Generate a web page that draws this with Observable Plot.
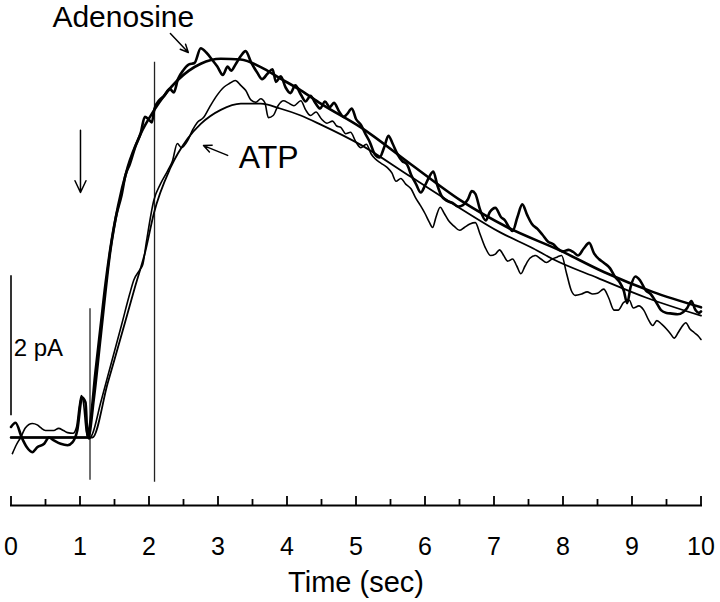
<!DOCTYPE html>
<html>
<head>
<meta charset="utf-8">
<script src="https://cdn.jsdelivr.net/npm/d3@7"></script>
<script src="https://cdn.jsdelivr.net/npm/@observablehq/plot@0.6"></script>
<style>
  html, body { margin: 0; padding: 0; background: #fff; }
  #chart { width: 720px; height: 602px; }
</style>
</head>
<body>
<div id="chart"></div>
<script>
// ---------- data (time in s, current in pA) ----------
const majorTicks = [0, 1, 2, 3, 4, 5, 6, 7, 8, 9, 10];
const minorTicks = [0.5, 1.5, 2.5, 3.5, 4.5, 5.5, 6.5, 7.5, 8.5, 9.5];

const adenosineTrace = [
  [0.0,0.15],[0.065,0.21],[0.16,-0.01],[0.23,-0.14],[0.31,-0.21],[0.38,-0.14],[0.48,-0.09],[0.55,0.0],
  [0.62,-0.04],[0.72,-0.09],[0.82,-0.11],[0.89,-0.07],[0.96,0.1],[1.03,0.57],[1.08,0.5],[1.11,0.02],
  [1.16,0.3],[1.22,0.9],[1.3,1.6],[1.37,2.2],[1.44,2.7],[1.52,3.15],[1.6,3.45],[1.66,3.75],[1.72,3.9],
  [1.8,4.15],[1.88,4.35],[1.94,4.58],[1.99,4.55],[2.04,4.5],[2.08,4.7],[2.15,4.82],[2.22,4.88],[2.3,4.98],
  [2.36,4.93],[2.42,5.12],[2.5,5.25],[2.58,5.33],[2.66,5.35],[2.75,5.56],[2.83,5.5],[2.92,5.39],[2.99,5.3],
  [3.07,5.18],[3.14,5.3],[3.19,5.24],[3.26,5.34],[3.33,5.45],[3.4,5.52],[3.48,5.36],[3.57,5.21],[3.64,5.12],
  [3.72,5.2],[3.79,5.26],[3.84,5.08],[3.91,5.16],[3.98,5.0],[4.05,4.92],[4.12,5.03],[4.2,4.9],[4.27,4.8],
  [4.34,4.88],[4.41,4.78],[4.48,4.7],[4.55,4.8],[4.62,4.72],[4.68,4.78],[4.76,4.65],[4.82,4.58],[4.87,4.62],
  [4.94,4.7],[5.0,4.55],[5.07,4.47],[5.14,4.33],[5.2,4.22],[5.27,4.05],[5.34,4.0],[5.41,4.15],[5.47,4.31],
  [5.53,4.2],[5.6,4.05],[5.67,3.95],[5.74,3.9],[5.8,3.75],[5.87,3.62],[5.94,3.5],[6.0,3.6],[6.06,3.72],
  [6.12,3.8],[6.18,3.6],[6.24,3.45],[6.32,3.38],[6.4,3.35],[6.48,3.3],[6.55,3.32],[6.62,3.4],[6.68,3.52],
  [6.73,3.48],[6.8,3.25],[6.88,3.1],[6.94,3.22],[7.02,3.28],[7.1,3.15],[7.16,3.1],[7.22,3.0],[7.27,2.95],
  [7.34,3.15],[7.41,3.33],[7.48,3.18],[7.55,3.05],[7.63,2.98],[7.7,2.9],[7.78,2.8],[7.86,2.76],[7.92,2.7],
  [8.0,2.66],[8.08,2.68],[8.15,2.65],[8.22,2.6],[8.3,2.7],[8.38,2.78],[8.45,2.63],[8.52,2.55],[8.6,2.49],
  [8.68,2.42],[8.75,2.3],[8.82,2.22],[8.88,2.1],[8.93,1.92],[8.98,2.15],[9.05,2.3],[9.12,2.24],[9.2,2.1],
  [9.27,2.05],[9.34,1.95],[9.42,1.82],[9.5,1.78],[9.58,1.77],[9.66,1.76],[9.74,1.79],[9.8,1.85],[9.86,1.95],
  [9.92,1.82],[9.97,1.78],[10.0,1.8]
];

const atpTrace = [
  [0.02,-0.23],[0.08,-0.1],[0.14,0.0],[0.21,0.14],[0.31,0.2],[0.38,0.18],[0.43,0.14],[0.5,0.1],[0.55,0.1],
  [0.62,0.1],[0.69,0.13],[0.76,0.1],[0.82,0.07],[0.9,0.06],[0.95,0.15],[0.99,0.45],[1.02,0.6],[1.05,0.5],
  [1.09,0.1],[1.13,-0.02],[1.18,0.05],[1.3,0.5],[1.45,1.05],[1.6,1.6],[1.72,2.05],[1.78,2.25],[1.87,2.4],
  [1.91,2.47],[1.96,2.78],[2.07,3.39],[2.17,3.63],[2.27,3.81],[2.34,3.95],[2.41,4.2],[2.47,4.14],[2.56,4.24],
  [2.63,4.39],[2.7,4.5],[2.79,4.57],[2.89,4.74],[2.98,4.88],[3.08,5.0],[3.17,5.06],[3.25,5.1],[3.33,5.03],
  [3.4,4.96],[3.48,4.82],[3.55,4.79],[3.62,4.84],[3.68,4.78],[3.73,4.57],[3.8,4.6],[3.87,4.74],[3.95,4.81],
  [4.02,4.78],[4.1,4.74],[4.2,4.81],[4.27,4.68],[4.34,4.6],[4.42,4.65],[4.5,4.55],[4.58,4.49],[4.66,4.52],
  [4.72,4.45],[4.78,4.43],[4.85,4.34],[4.92,4.36],[5.0,4.22],[5.07,4.14],[5.15,4.19],[5.22,4.05],[5.28,3.98],
  [5.36,3.92],[5.45,3.86],[5.52,3.78],[5.58,3.66],[5.65,3.7],[5.72,3.62],[5.8,3.55],[5.86,3.43],[5.93,3.32],
  [6.0,3.2],[6.06,3.08],[6.11,3.0],[6.16,3.15],[6.22,3.29],[6.28,3.2],[6.34,3.1],[6.42,3.02],[6.5,2.96],
  [6.57,3.0],[6.65,3.05],[6.73,3.07],[6.8,2.9],[6.88,2.7],[6.95,2.6],[7.02,2.62],[7.08,2.68],[7.14,2.6],
  [7.2,2.52],[7.27,2.55],[7.33,2.45],[7.39,2.34],[7.45,2.45],[7.52,2.56],[7.6,2.6],[7.68,2.55],[7.76,2.5],
  [7.84,2.55],[7.92,2.58],[7.98,2.6],[8.05,2.35],[8.12,2.1],[8.18,2.03],[8.27,2.05],[8.35,2.08],[8.43,2.05],
  [8.5,2.06],[8.59,2.12],[8.66,2.0],[8.74,1.82],[8.8,1.82],[8.88,1.93],[8.96,1.96],[9.02,1.85],[9.1,1.88],
  [9.17,1.82],[9.24,1.68],[9.3,1.6],[9.36,1.67],[9.43,1.62],[9.5,1.55],[9.56,1.48],[9.61,1.42],[9.67,1.5],
  [9.72,1.58],[9.78,1.64],[9.84,1.55],[9.9,1.5],[9.96,1.45],[10.0,1.4]
];

const adenosineFit = [
  [0,0],[1.0,0],[1.12,0],[1.2,0.55],[1.3,1.45],[1.44,2.67],[1.55,3.3],[1.69,3.86],[1.88,4.34],[2.07,4.67],
  [2.41,5.1],[2.75,5.34],[3.04,5.41],[3.33,5.4],[3.62,5.29],[3.9,5.13],[4.2,4.96],[4.49,4.77],[5.07,4.43],
  [5.8,3.9],[6.51,3.39],[7.2,3.0],[7.96,2.67],[8.6,2.36],[9.3,2.08],[10,1.86]
];

const atpFit = [
  [0,0],[1.0,0],[1.18,0],[1.4,0.77],[1.6,1.46],[1.8,2.16],[1.95,2.67],[2.07,3.2],[2.31,3.85],[2.56,4.27],
  [2.75,4.48],[3.04,4.68],[3.33,4.77],[3.62,4.77],[3.9,4.7],[4.2,4.6],[4.49,4.47],[5.07,4.18],[5.8,3.72],
  [6.5,3.28],[7.09,2.93],[7.57,2.7],[7.85,2.55],[8.5,2.28],[9.2,2.0],[10,1.74]
];

// vertical marker lines (time, bottom, top in pA)
const markerTime = [1.145, 2.08];
const markerBottom = [-0.61, -0.64];
const markerTop = [1.84, 5.36];

// scale bar (2 pA)
const scaleBarTime = [0];
const scaleBarBottom = [0.31];
const scaleBarTop = [2.31];

// annotations
const labelText = ["Adenosine", "ATP", "2 pA"];
const labelTime = [0.6, 3.3, 0.04];
const labelValue = [6.0, 3.99, 1.27];
const labelSize = [30, 32, 24];

const arrowX1 = [1.007, 2.31, 3.14];
const arrowY1 = [4.39, 5.77, 4.03];
const arrowX2 = [1.007, 2.57, 2.79];
const arrowY2 = [3.5, 5.5, 4.17];

// ---------- build ----------
const toObj = a => a.map(([t, v]) => ({t, v}));
const markers = markerTime.map((t, i) => ({t, y1: markerBottom[i], y2: markerTop[i]}));
const scaleBar = scaleBarTime.map((t, i) => ({t, y1: scaleBarBottom[i], y2: scaleBarTop[i]}));
const labels = labelText.map((s, i) => ({s, t: labelTime[i], v: labelValue[i], size: labelSize[i]}));
const arrows = arrowX1.map((x, i) => ({x1: x, y1: arrowY1[i], x2: arrowX2[i], y2: arrowY2[i]}));

const chart = Plot.plot({
  width: 720,
  height: 602,
  marginLeft: 10.5,
  marginRight: 19.5,
  marginTop: 0,
  marginBottom: 97,
  x: {domain: [0, 10]},
  y: {domain: [-1, 6], range: [507, 17], axis: null},
  style: {fontFamily: "'Liberation Sans', Arial, Helvetica, sans-serif", fontSize: "25px", background: "#fff", color: "#000"},
  marks: [
    Plot.frame({anchor: "bottom", strokeWidth: 2}),
    Plot.axisX(minorTicks, {tickSize: -6, strokeWidth: 1.8, fill: "none", label: null}),
    Plot.axisX(majorTicks, {tickSize: -9, tickPadding: 41, strokeWidth: 1.8, fontSize: 25, label: null}),
    Plot.axisX([], {tickSize: 0, fill: "#000", fontSize: 29,
      label: "Time (sec)", labelAnchor: "center", labelOffset: 86, labelArrow: "none"}),
    Plot.ruleX(markers, {x: "t", y1: "y1", y2: "y2", stroke: "#222", strokeWidth: 1.3}),
    Plot.ruleX(scaleBar, {x: "t", y1: "y1", y2: "y2", stroke: "#000", strokeWidth: 1.6}),
    Plot.line(toObj(atpFit), {x: "t", y: "v", curve: "monotone-x", stroke: "#000", strokeWidth: 1.8}),
    Plot.line(toObj(adenosineFit), {x: "t", y: "v", curve: "monotone-x", stroke: "#000", strokeWidth: 2.6}),
    Plot.line(toObj(atpTrace), {x: "t", y: "v", curve: "monotone-x", stroke: "#000", strokeWidth: 1.6}),
    Plot.line(toObj(adenosineTrace), {x: "t", y: "v", curve: "monotone-x", stroke: "#000", strokeWidth: 2.6}),
    Plot.arrow(arrows, {x1: "x1", y1: "y1", x2: "x2", y2: "y2", stroke: "#000", strokeWidth: 1.5, headLength: 13, headAngle: 50}),
    Plot.text(labels, {x: "t", y: "v", text: "s", fontSize: d => d.size, textAnchor: "start", lineAnchor: "middle", fill: "#000"})
  ]
});
document.getElementById("chart").appendChild(chart);
</script>
</body>
</html>
